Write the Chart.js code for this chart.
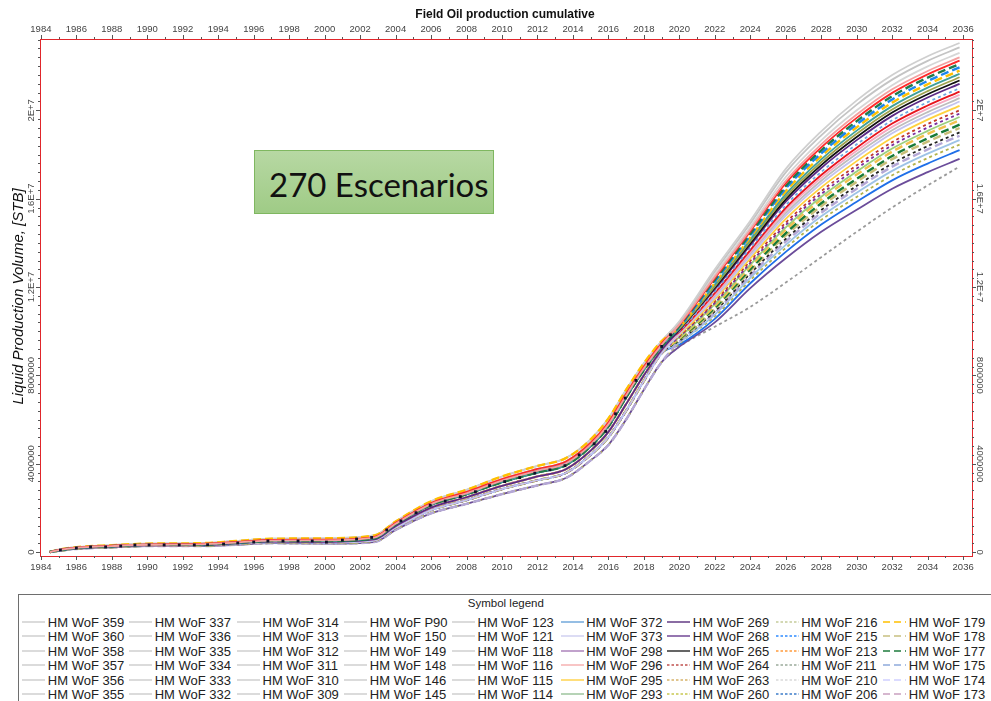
<!DOCTYPE html>
<html>
<head>
<meta charset="utf-8">
<script src="https://cdn.jsdelivr.net/npm/chart.js@4.4.1/dist/chart.umd.min.js"></script>
<style>
  html, body { margin:0; padding:0; background:#fff; }
  body { width:991px; height:701px; overflow:hidden; position:relative; font-family:Arial, "Liberation Sans", sans-serif; }
  #plot { position:absolute; left:0; top:0; }
  #note { position:absolute; left:254px; top:150px; width:240px; height:64px; box-sizing:border-box;
          border:1px solid #7fb760; background:linear-gradient(#b7d8a3, #9fcb86); }
  #note span { position:absolute; left:14px; top:14px; font-family:Lato, "Open Sans", sans-serif;
               font-size:33px; line-height:39.6px; color:#111; white-space:nowrap; }
  #legend { position:absolute; left:18px; top:594px; width:1000px; height:200px;
            border-top:1.5px solid #6e6e6e; border-left:1.5px solid #6e6e6e; }
  .lg-title { position:absolute; font-size:11.5px; line-height:14px; color:#222; white-space:nowrap; }
  .lg-item { position:absolute; font-size:13px; line-height:15px; color:#222; white-space:pre; }
  .lg-line { position:absolute; }
</style>
</head>
<body>
<canvas id="plot" width="991" height="590"></canvas>
<div id="note"><span>270 Escenarios</span></div>
<div id="legend"><div class="lg-title" id="lgTitle">Symbol legend</div></div>
<script>
// eje X (años) y eje Y (millones de STB)
let xTickLabels = ['1984','1986','1988','1990','1992','1994','1996','1998','2000','2002','2004','2006','2008',
    '2010','2012','2014','2016','2018','2020','2022','2024','2026','2028','2030','2032','2034','2036']
let yTickValues = [0, 4, 8, 12, 16, 20]
let yTickLabels = ['0', '4000000', '8000000', '1.2E+7', '1.6E+7', '2E+7']

// historia (ajuste) - variantes de la banda
let histYears = [1984.5, 1985, 1986, 1988, 1990, 1993, 1995, 1997, 2000, 2002.8, 2004, 2006, 2008, 2010, 2012, 2013.6, 2015, 2016, 2017, 2018, 2019]
let histHigh2 = [0.00, 0.11, 0.22, 0.31, 0.38, 0.40, 0.50, 0.60, 0.62, 0.75, 1.38, 2.30, 2.82, 3.42, 3.90, 4.25, 5.10, 6.05, 7.35, 8.55, 9.55]
let histHigh  = [0.00, 0.10, 0.20, 0.29, 0.35, 0.37, 0.46, 0.55, 0.56, 0.69, 1.32, 2.22, 2.72, 3.30, 3.76, 4.10, 4.95, 5.88, 7.18, 8.40, 9.45]
let histMidHi = [0.00, 0.09, 0.19, 0.27, 0.33, 0.35, 0.43, 0.52, 0.53, 0.65, 1.28, 2.17, 2.66, 3.23, 3.68, 4.01, 4.86, 5.78, 7.09, 8.32, 9.38]
let histMid   = [0.00, 0.08, 0.18, 0.26, 0.32, 0.33, 0.41, 0.50, 0.50, 0.62, 1.25, 2.13, 2.61, 3.16, 3.60, 3.93, 4.78, 5.68, 7.00, 8.24, 9.30]
let histMidLo = [0.00, 0.07, 0.17, 0.24, 0.30, 0.31, 0.39, 0.47, 0.46, 0.57, 1.17, 2.01, 2.48, 3.00, 3.42, 3.75, 4.59, 5.44, 6.70, 8.00, 9.15]
let histLow   = [0.00, 0.06, 0.16, 0.23, 0.29, 0.30, 0.37, 0.44, 0.43, 0.52, 1.10, 1.90, 2.35, 2.85, 3.25, 3.58, 4.40, 5.20, 6.40, 7.75, 9.00]
let histLow2  = [0.00, 0.05, 0.14, 0.21, 0.27, 0.27, 0.33, 0.40, 0.38, 0.45, 1.00, 1.75, 2.18, 2.62, 3.02, 3.35, 4.15, 4.85, 6.00, 7.35, 8.60]
let histSets = [histHigh2, histHigh, histMidHi, histMid, histMidLo, histLow, histLow2]

// pronóstico por escenario
let fcYears = [2020, 2022, 2024, 2026, 2028, 2030, 2032, 2034, 2035.8]
let fcValues = [
    [10.45, 12.80, 15.00, 17.35, 19.05, 20.45, 21.60, 22.45, 23.05],
    [10.41, 12.70, 14.88, 17.19, 18.87, 20.26, 21.39, 22.24, 22.85],
    [10.35, 12.57, 14.72, 16.98, 18.64, 20.00, 21.14, 21.99, 22.60],
    [10.31, 12.47, 14.60, 16.81, 18.46, 19.81, 20.95, 21.78, 22.40],
    [10.28, 12.40, 14.52, 16.70, 18.32, 19.66, 20.79, 21.63, 22.25],
    [10.24, 12.33, 14.41, 16.57, 18.19, 19.51, 20.64, 21.48, 22.10],
    [10.21, 12.25, 14.33, 16.46, 18.05, 19.37, 20.49, 21.33, 21.95],
    [10.18, 12.18, 14.24, 16.34, 17.92, 19.23, 20.35, 21.18, 21.80],
    [10.14, 12.11, 14.15, 16.21, 17.78, 19.08, 20.19, 21.03, 21.65],
    [10.11, 12.03, 14.06, 16.09, 17.65, 18.94, 20.04, 20.87, 21.50],
    [10.08, 11.97, 13.97, 15.97, 17.52, 18.79, 19.90, 20.73, 21.35],
    [10.05, 11.90, 13.89, 15.86, 17.39, 18.65, 19.75, 20.58, 21.20],
    [10.00, 11.80, 13.76, 15.70, 17.21, 18.46, 19.55, 20.37, 21.00],
    [9.97, 11.73, 13.67, 15.58, 17.07, 18.31, 19.40, 20.22, 20.85],
    [9.93, 11.65, 13.58, 15.47, 16.94, 18.17, 19.25, 20.08, 20.70],
    [9.90, 11.59, 13.50, 15.34, 16.81, 18.03, 19.10, 19.92, 20.55],
    [9.87, 11.52, 13.41, 15.23, 16.68, 17.88, 18.96, 19.77, 20.40],
    [9.83, 11.44, 13.29, 15.08, 16.51, 17.70, 18.76, 19.58, 20.20],
    [9.78, 11.34, 13.18, 14.92, 16.34, 17.51, 18.56, 19.38, 20.00],
    [9.75, 11.28, 13.09, 14.81, 16.21, 17.37, 18.42, 19.22, 19.85],
    [9.72, 11.22, 13.01, 14.70, 16.09, 17.23, 18.27, 19.07, 19.70],
    [9.68, 11.14, 12.92, 14.59, 15.96, 17.09, 18.13, 18.93, 19.55],
    [9.64, 11.06, 12.81, 14.44, 15.79, 16.90, 17.93, 18.73, 19.35],
    [9.61, 10.99, 12.73, 14.33, 15.66, 16.76, 17.79, 18.58, 19.20],
    [9.56, 10.90, 12.61, 14.18, 15.49, 16.58, 17.59, 18.38, 19.00],
    [9.53, 10.83, 12.53, 14.06, 15.36, 16.45, 17.45, 18.23, 18.85],
    [9.49, 10.75, 12.42, 13.91, 15.20, 16.27, 17.26, 18.04, 18.65],
    [9.44, 10.67, 12.31, 13.77, 15.04, 16.08, 17.06, 17.84, 18.45],
    [9.39, 10.56, 12.17, 13.59, 14.83, 15.86, 16.83, 17.59, 18.20],
    [9.30, 10.40, 11.95, 13.30, 14.50, 15.50, 16.45, 17.20, 17.80],
    [9.30, 10.20, 11.10, 12.20, 13.35, 14.50, 15.60, 16.60, 17.45]
]
let fcHist = [0,0,1,2,1,3,2,0,3,2,3,4,3,2,4,1,5,4,4,5,4,5,5,4,5,6,5,6,5,6,6]
let fcColors = ['#cfcfcf','#c4c4c4','#d6d6d6','#f3a0a0','#ff2a2a','#217a4a','#1c86ee','#ffc000','#3f9f9a','#9ea24c',
    '#111111','#5b2a86','#6ea8e0','#e8141c','#f6a9c0','#bdbdbd','#c3c3ee','#ffd23f','#c0392b','#7a2e9e',
    '#9bcf7e','#f2c14e','#177a38','#c8be78','#222222','#b4a7d6','#9dc3e6','#b3b34d','#1f6fe8','#6b4c9a','#9a9a9a']
let fcDash = ['s','s','s','s','s','d','d','d','s','s','s','s','o','s','s','s','s','s','o','o','s','d','d','d','o','d','s','o','s','s','o']

// datos observados (puntos negros)
let obsYears = [1985.1,1986.0,1986.8,1987.65,1988.5,1989.3,1990.1,1990.95,1991.8,1992.65,1993.4,1994.3,1995.1,1996.0,
    1996.8,1997.65,1998.5,1999.3,2000.1,2001.0,2001.8,2002.65,2003.5,2004.3,2005.15,2005.95,2006.8,2007.65,2008.5,
    2009.3,2010.15,2011.0,2011.85,2012.7,2013.55,2014.35,2015.2,2015.85,2016.4,2016.95,2017.55,2018.25,2019.0,2019.5]
let obsValues = [0.09,0.18,0.23,0.23,0.27,0.32,0.32,0.32,0.32,0.32,0.33,0.36,0.41,0.45,
    0.50,0.50,0.50,0.50,0.45,0.54,0.59,0.66,1.00,1.41,1.78,2.12,2.31,2.51,2.73,
    3.01,3.19,3.37,3.57,3.72,3.91,4.40,4.90,5.46,6.26,6.97,7.77,8.51,9.31,9.84]

// leyenda (columna por columna)
let legendNames = ['359','360','358','357','356','355', '337','336','335','334','333','332',
    '314','313','312','311','310','309', 'P90','150','149','148','146','145',
    '123','121','118','116','115','114', '372','373','298','296','295','293',
    '269','268','265','264','263','260', '216','215','213','211','210','206',
    '179','178','177','175','174','173']
let legendColors = ['#c8c8c8','#c8c8c8','#c8c8c8','#c8c8c8','#c8c8c8','#c8c8c8',
    '#c8c8c8','#c8c8c8','#c8c8c8','#c8c8c8','#c8c8c8','#c8c8c8',
    '#c8c8c8','#c8c8c8','#c8c8c8','#c8c8c8','#c8c8c8','#c8c8c8',
    '#c8c8c8','#c8c8c8','#c8c8c8','#c8c8c8','#c8c8c8','#c8c8c8',
    '#c8c8c8','#c8c8c8','#c8c8c8','#c8c8c8','#c8c8c8','#c8c8c8',
    '#5b9bd5','#c9c9ee','#a070b0','#f4a6a6','#ffcc33','#8fbc8f',
    '#4b1c72','#5b2c86','#111111','#c0504d','#d6b36a','#c8c850',
    '#c5cc9a','#2e8bff','#ff9a3c','#9aaa9a','#d9d9d9','#3d7cc9',
    '#ffc000','#c8c080','#1e7b3c','#8faadc','#cfcfff','#c9a0c0']
let legendDash = ['s','s','s','s','s','s', 's','s','s','s','s','s', 's','s','s','s','s','s',
    's','s','s','s','s','s', 's','s','s','s','s','s', 's','s','s','s','s','s',
    's','s','s','o','o','o', 'o','o','o','o','o','o', 'd','d','d','d','d','d']

let dashMap = { s: [], d: [8, 4], o: [3, 3] }
let grayIdx = [0, 1, 2, 15, 30]

let datasets = [{
    label: 'Observed',
    data: obsYears.map((yr, i) => ({ x: yr, y: obsValues[i] })),
    showLine: false,
    pointStyle: 'rect',
    pointRadius: 2,
    pointBackgroundColor: '#10102a',
    pointBorderColor: '#10102a',
    pointBorderWidth: 0,
    order: 0
}]
fcValues.forEach((fc, i) => {
    let h = histSets[fcHist[i]]
    let pts = histYears.map((yr, k) => ({ x: yr, y: h[k] }))
        .concat(fcYears.map((yr, k) => ({ x: yr, y: fc[k] })))
    datasets.push({
        label: 'HM WoF ' + i,
        data: pts,
        borderColor: fcColors[i],
        borderDash: dashMap[fcDash[i]],
        borderWidth: fcDash[i] === 'd' ? 2.4 : 1.8,
        pointRadius: 0,
        tension: 0.4,
        cubicInterpolationMode: 'monotone',
        fill: false,
        order: grayIdx.includes(i) ? 2 : 1
    })
})

let axisFont = { family: '"Liberation Sans Narrow", "Arial Narrow", Arial', size: 9.5 }
let redBorder = { display: true, color: '#e0262b', width: 1 }

// ticks menores, etiquetas Y rotadas, título del eje y título del gráfico
const decorPlugin = {
    id: 'decor',
    afterDraw(chart) {
        let { ctx, chartArea: a, scales: { x, y } } = chart
        ctx.save()
        ctx.strokeStyle = '#555'
        ctx.lineWidth = 1
        ctx.beginPath()
        for (let yr = 1984; yr <= 2036; yr++) {
            let px = Math.round(x.getPixelForValue(yr)) + 0.5
            let len = yr % 2 === 0 ? 4 : 2
            ctx.moveTo(px, a.bottom); ctx.lineTo(px, a.bottom + len)
            ctx.moveTo(px, a.top); ctx.lineTo(px, a.top - len)
        }
        for (let k = 0; k <= 58; k++) {
            let py = Math.round(y.getPixelForValue(k * 0.4)) + 0.5
            let len = k % 10 === 0 ? 4 : 2
            ctx.moveTo(a.left, py); ctx.lineTo(a.left - len, py)
            ctx.moveTo(a.right, py); ctx.lineTo(a.right + len, py)
        }
        ctx.stroke()

        ctx.font = '9.5px "Liberation Sans Narrow", "Arial Narrow", Arial'
        ctx.fillStyle = '#444'
        ctx.textAlign = 'center'
        ctx.textBaseline = 'alphabetic'
        yTickValues.forEach((v, i) => {
            let py = y.getPixelForValue(v)
            ctx.save(); ctx.translate(34, py); ctx.rotate(-Math.PI / 2); ctx.fillText(yTickLabels[i], 0, 0); ctx.restore()
            ctx.save(); ctx.translate(977, py); ctx.rotate(Math.PI / 2); ctx.fillText(yTickLabels[i], 0, 0); ctx.restore()
        })

        ctx.font = 'italic 15px Arial, "Liberation Sans"'
        ctx.fillStyle = '#111'
        ctx.save(); ctx.translate(22.6, (a.top + a.bottom) / 2 - 1); ctx.rotate(-Math.PI / 2)
        ctx.fillText('Liquid Production Volume, [STB]', 0, 0); ctx.restore()

        ctx.font = 'bold 12px Arial, "Liberation Sans"'
        ctx.fillText('Field Oil production cumulative', (a.left + a.right) / 2 - 1, 18)
        ctx.restore()
    }
}

let chart = new Chart(document.getElementById('plot').getContext('2d'), {
    type: 'line',
    data: { datasets: datasets },
    options: {
        responsive: false,
        animation: false,
        devicePixelRatio: 1,
        layout: { padding: 0 },
        plugins: { legend: { display: false }, tooltip: { enabled: false }, title: { display: false } },
        scales: {
            x: {
                type: 'linear', position: 'bottom', min: 1983.95, max: 2036.5,
                afterBuildTicks: s => { s.ticks = xTickLabels.map(t => ({ value: Number(t) })) },
                afterFit: s => { s.height = 34 },
                grid: { display: false, drawTicks: false },
                border: redBorder,
                ticks: { autoSkip: false, maxRotation: 0, minRotation: 0, padding: 6, color: '#444', font: axisFont,
                         callback: v => String(v) }
            },
            x2: {
                type: 'linear', position: 'top', min: 1983.95, max: 2036.5,
                afterBuildTicks: s => { s.ticks = xTickLabels.map(t => ({ value: Number(t) })) },
                afterFit: s => { s.height = 39 },
                grid: { display: false, drawTicks: false },
                border: redBorder,
                ticks: { autoSkip: false, maxRotation: 0, minRotation: 0, padding: 4.3, color: '#444', font: axisFont,
                         callback: v => String(v) }
            },
            y: {
                type: 'linear', position: 'left', min: -0.18, max: 23.23,
                afterFit: s => { s.width = 40 },
                grid: { display: false, drawTicks: false },
                border: redBorder,
                ticks: { display: false }
            },
            y2: {
                type: 'linear', position: 'right', min: -0.18, max: 23.23,
                afterFit: s => { s.width = 19 },
                grid: { display: false, drawTicks: false },
                border: redBorder,
                ticks: { display: false }
            }
        }
    },
    plugins: [decorPlugin]
})

// leyenda de símbolos
let LX = 19.5, LY = 595.5
let legendColX = [48.3, 155.2, 263, 370.3, 478, 586.7, 693.3, 801.7, 909.3]
let lg = document.getElementById('legend')
let lgTitle = document.getElementById('lgTitle')
lgTitle.style.left = (468.3 - LX) + 'px'
lgTitle.style.top = (596 - LY) + 'px'
legendNames.forEach((nm, i) => {
    let col = Math.floor(i / 6), row = i % 6
    let tx = legendColX[col]
    let t = document.createElement('div')
    t.className = 'lg-item'
    t.textContent = 'HM WoF ' + nm
    t.style.left = (tx - LX) + 'px'
    t.style.top = (615 + row * 14.5 - LY) + 'px'
    lg.appendChild(t)

    let svg = document.createElementNS('http://www.w3.org/2000/svg', 'svg')
    svg.setAttribute('class', 'lg-line')
    svg.setAttribute('width', '23')
    svg.setAttribute('height', '4')
    svg.style.left = (tx - 25.5 - LX) + 'px'
    svg.style.top = (622.3 + row * 14.5 - 2 - LY) + 'px'
    let ln = document.createElementNS('http://www.w3.org/2000/svg', 'line')
    ln.setAttribute('x1', '0'); ln.setAttribute('x2', '23')
    ln.setAttribute('y1', '2'); ln.setAttribute('y2', '2')
    ln.setAttribute('stroke', legendColors[i])
    ln.setAttribute('stroke-width', '1.3')
    if (legendDash[i] === 'd') ln.setAttribute('stroke-dasharray', '7 4')
    if (legendDash[i] === 'o') ln.setAttribute('stroke-dasharray', '2.5 2')
    svg.appendChild(ln)
    lg.appendChild(svg)
})
</script>
</body>
</html>
